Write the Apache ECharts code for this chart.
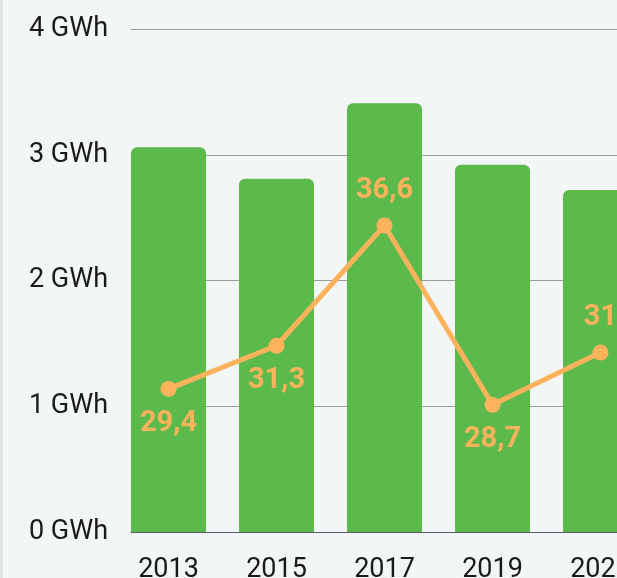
<!DOCTYPE html>
<html style="height: 100%">
   <head>
       <meta charset="utf-8">
       <script src="https://cdn.jsdelivr.net/npm/echarts@6/dist/echarts.min.js"></script>
       <title>GWh per year</title>
   </head>
   <body style="height: 100%; margin: 0; background: #f3f6f7">
       <div id="container" style="width: 617px; height: 578px"></div>
       <script type="text/javascript">

// years shown on the x axis
let years = [2013, 2015, 2017, 2019, 2021]
// bar values in GWh (left axis)
let energy = [3.06, 2.81, 3.41, 2.92, 2.72]
// line values (hidden right axis)
let share = [29.4, 31.3, 36.6, 28.7, 31.0]
// where each line label sits
let labelPos = ['bottom', 'bottom', 'top', 'bottom', 'top']
let yTicks = [0, 1, 2, 3, 4]

let green = '#5cb94b'
let orange = '#fdb35c'
let font = 'Roboto'

function fmt(v) {
    return (Math.round(v * 10) / 10).toString().replace('.', ',')
}

let dom = document.getElementById("container")
let chart = echarts.init(dom)

chart.setOption({
    backgroundColor: '#f3f6f7',
    animation: false,
    graphic: [{
        type: 'rect',
        shape: {x: 0, y: 0, width: 3, height: 578},
        style: {fill: '#dde5e5'}
    }],
    grid: {left: 131, right: 0, top: 29, bottom: 46, outerBoundsMode: 'none', containLabel: false},
    xAxis: {
        type: 'value',
        // first year sits 37.5px into the grid, 54px per year
        min: years[0] - 37.5 / 54,
        max: years[0] - 37.5 / 54 + 486 / 54,
        splitLine: {show: false},
        axisTick: {show: false},
        axisLine: {show: true, lineStyle: {color: '#555a66', width: 1}},
        axisLabel: {
            customValues: years,
            formatter: v => String(v),
            margin: 25,
            color: '#1a1a1a',
            fontFamily: font,
            fontSize: 27
        }
    },
    yAxis: [
        {
            type: 'value',
            min: yTicks[0],
            max: yTicks[yTicks.length - 1],
            interval: 1,
            axisLine: {show: false},
            axisTick: {show: false},
            splitLine: {lineStyle: {color: '#9c9c9c', width: 1}},
            axisLabel: {
                formatter: '{value} GWh',
                margin: 23,
                padding: [4, 0, 0, 0],
                color: '#1a1a1a',
                fontFamily: font,
                fontSize: 27
            }
        },
        {
            type: 'value',
            show: false,
            min: 23.1,
            max: 45.25,
            splitLine: {show: false}
        }
    ],
    series: [
        {
            type: 'bar',
            barWidth: 75,
            itemStyle: {color: green, borderRadius: [6, 6, 0, 0]},
            data: years.map((y, i) => [y, energy[i]])
        },
        {
            type: 'line',
            yAxisIndex: 1,
            symbol: 'circle',
            symbolSize: 16,
            lineStyle: {color: orange, width: 5},
            itemStyle: {color: orange},
            data: years.map((y, i) => ({
                value: [y, share[i]],
                label: {
                    show: true,
                    position: labelPos[i],
                    distance: labelPos[i] == 'top' ? 12 : 12,
                    formatter: p => fmt(p.value[1]),
                    color: orange,
                    fontFamily: font,
                    fontWeight: 'bold',
                    fontSize: 29
                }
            }))
        }
    ]
}, true)

       </script>
   </body>
</html>
